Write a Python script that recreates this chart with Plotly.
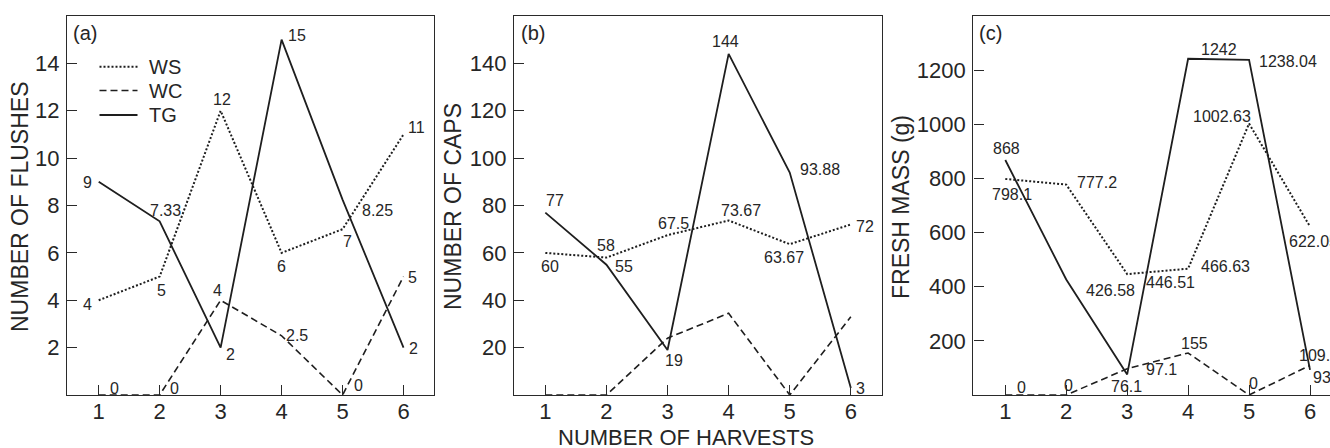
import plotly.graph_objects as go

# ---------------- data ----------------
harvests = [1, 2, 3, 4, 5, 6]
series_names = ["WS", "WC", "TG"]

flushes_ws = [4, 5, 12, 6, 7, 11]
flushes_wc = [0, 0, 4, 2.5, 0, 5]
flushes_tg = [9, 7.33, 2, 15, 8.25, 2]

caps_ws = [60, 58, 67.5, 73.67, 63.67, 72]
caps_wc = [0, 0, 24, 34.5, 0, 33]
caps_tg = [77, 55, 19, 144, 93.88, 3]

mass_ws = [798.1, 777.2, 446.51, 466.63, 1002.63, 622.05]
mass_wc = [0, 0, 97.1, 155, 0, 109.3]
mass_tg = [868, 426.58, 76.1, 1242, 1238.04, 93]

flushes_ticks = [2, 4, 6, 8, 10, 12, 14]
caps_ticks = [20, 40, 60, 80, 100, 120, 140]
mass_ticks = [200, 400, 600, 800, 1000, 1200]

# which labels are printed per panel (None = no label)
flushes_labels = {"WS": ["4", "5", "12", "6", "7", "11"],
                  "WC": ["0", "0", "4", "2.5", "0", "5"],
                  "TG": ["9", "7.33", "2", "15", "8.25", "2"]}
caps_labels = {"WS": ["60", "58", "67.5", "73.67", "63.67", "72"],
               "WC": [None] * 6,
               "TG": ["77", "55", "19", "144", "93.88", "3"]}
mass_labels = {"WS": ["798.1", "777.2", "446.51", "466.63", "1002.63", "622.05"],
               "WC": ["0", "0", "97.1", "155", "0", "109.3"],
               "TG": ["868", "426.58", "76.1", "1242", "1238.04", "93"]}

# ---------------- styling (label pixel offsets: dx, dy-up, anchor) ----------------
flushes_off = {"WS": [(-11, -4), (2, -14), (1, 11), (0, -14), (5, -12), (13, 7)],
               "WC": [(16, 7), (15, 7), (-3, 10), (15, 0), (16, 10), (9, -1)],
               "TG": [(-11, -1), (6, 11), (10, -7), (15, 4), (35, -11), (10, -1)]}
caps_off = {"WS": [(5, -14), (0, 12), (6, 12), (12, 10), (-6, -13), (14, -2)],
            "WC": [(0, 0)] * 6,
            "TG": [(10, 12), (18, -2), (6, -11), (-3, 12), (30, 3), (10, -1)]}
mass_off = {"WS": [(7, -16), (31, 2), (43, -8), (37, 2), (-27, 7), (-23, -15, "left")],
            "WC": [(16, 8), (2, 10), (34, -1), (6, 10), (4, 12), (-13, 10, "left")],
            "TG": [(1, 12), (44, -11), (-1, -12), (31, 9), (39, -2), (1, -8, "left")]}

W, H = 1330, 448
MT, MB = 16, 53
PLOT_H = H - MT - MB
LINE_C = "#1e1e1e"
TEXT_C = "#262626"
FONT = "Liberation Sans, Arial, sans-serif"
dash_of = {"WS": "2px,2px", "WC": "7px,4px", "TG": "solid"}
width_of = {"WS": 2, "WC": 1.6, "TG": 1.8}

panels = [
    dict(ws=flushes_ws, wc=flushes_wc, tg=flushes_tg, labels=flushes_labels, off=flushes_off,
         ticks=flushes_ticks, yrange=[0, 16], xrange=[0.48, 6.5], dom=[67 / W, 434 / W],
         mirror=True, title="NUMBER OF FLUSHES", tx=20, tag="(a)", tagx=85.5),
    dict(ws=caps_ws, wc=caps_wc, tg=caps_tg, labels=caps_labels, off=caps_off,
         ticks=caps_ticks, yrange=[0, 160], xrange=[0.487, 6.51], dom=[514 / W, 882 / W],
         mirror=True, title="NUMBER OF CAPS", tx=453, tag="(b)", tagx=533),
    dict(ws=mass_ws, wc=mass_wc, tg=mass_tg, labels=mass_labels, off=mass_off,
         ticks=mass_ticks, yrange=[0, 1400], xrange=[0.475, 6.328], dom=[973.3 / W, 1.0],
         mirror=False, title="FRESH MASS (g)", tx=901, tag="(c)", tagx=991),
]

fig = go.Figure()
annotations = []
shapes = []

def py(px):
    return (H - MB - px) / PLOT_H

for i, p in enumerate(panels):
    n = "" if i == 0 else str(i + 1)
    xa, ya = "x" + n, "y" + n
    vals = {"WS": p["ws"], "WC": p["wc"], "TG": p["tg"]}
    for name in series_names:
        fig.add_trace(go.Scatter(
            x=harvests, y=vals[name], mode="lines", name=name, showlegend=False,
            line=dict(color=LINE_C, width=width_of[name], dash=dash_of[name]),
            cliponaxis=False, xaxis=xa, yaxis=ya))
        for j, lab in enumerate(p["labels"][name]):
            if lab is None:
                continue
            o = p["off"][name][j]
            annotations.append(dict(
                x=harvests[j], y=vals[name][j], xref=xa, yref=ya, text=lab,
                showarrow=False, xshift=o[0], yshift=o[1],
                xanchor=o[2] if len(o) > 2 else "center", yanchor="middle",
                font=dict(size=16, color=TEXT_C, family=FONT)))
    axis_common = dict(showline=True, linecolor="#2a2a2a", linewidth=1.4, ticks="inside",
                       ticklen=10, tickwidth=1.2, tickcolor="#2a2a2a", showgrid=False,
                       zeroline=False, tickfont=dict(size=22, color=TEXT_C, family=FONT))
    fig.update_layout(**{
        ("xaxis" + n): dict(domain=p["dom"], range=p["xrange"], tickvals=harvests,
                            mirror=True, anchor=ya, ticklabelstandoff=-4, **axis_common),
        ("yaxis" + n): dict(domain=[0, 1], range=p["yrange"], tickvals=p["ticks"],
                            mirror=p["mirror"], anchor=xa, ticklabelstandoff=2, **axis_common),
    })
    annotations.append(dict(x=p["tx"] / W, y=py(207), xref="paper", yref="paper",
                            text=p["title"], textangle=-90, showarrow=False,
                            xanchor="center", yanchor="middle",
                            font=dict(size=23, color=TEXT_C, family=FONT)))
    annotations.append(dict(x=p["tagx"] / W, y=py(33), xref="paper", yref="paper",
                            text=p["tag"], showarrow=False, xanchor="center", yanchor="middle",
                            font=dict(size=20, color=TEXT_C, family=FONT)))

annotations.append(dict(x=686 / W, y=py(437.5), xref="paper", yref="paper",
                        text="NUMBER OF HARVESTS", showarrow=False,
                        xanchor="center", yanchor="middle",
                        font=dict(size=22, color=TEXT_C, family=FONT)))

# legend (panel a)
for k, name in enumerate(series_names):
    yy = py([66.7, 90.5, 115][k])
    shapes.append(dict(type="line", xref="paper", yref="paper", x0=99.5 / W, x1=137.5 / W,
                       y0=yy, y1=yy,
                       line=dict(color=LINE_C, width=width_of[name], dash=dash_of[name])))
    annotations.append(dict(x=147 / W, y=yy, xref="paper", yref="paper", text=name,
                            showarrow=False, xanchor="left", yanchor="middle",
                            font=dict(size=20, color=TEXT_C, family=FONT)))

fig.update_layout(width=W, height=H, margin=dict(l=0, r=0, t=MT, b=MB, pad=0),
                  paper_bgcolor="white", plot_bgcolor="white", showlegend=False,
                  annotations=annotations, shapes=shapes,
                  font=dict(family=FONT, color=TEXT_C))

fig.write_html("out.html")
